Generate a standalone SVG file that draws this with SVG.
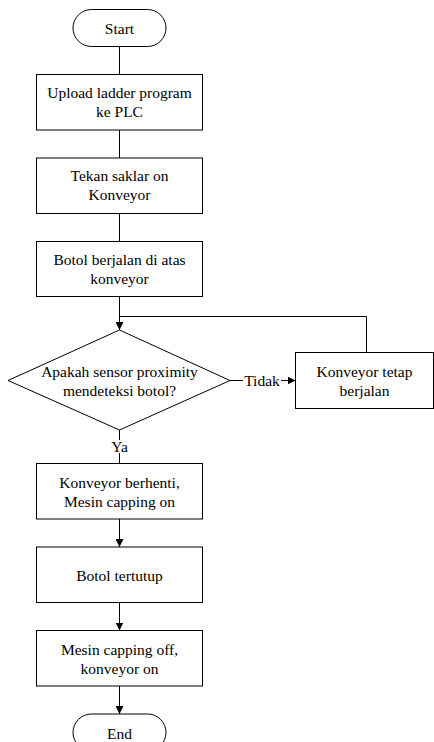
<svg xmlns="http://www.w3.org/2000/svg" width="434" height="742" viewBox="0 0 434 742">
<style>
.s{fill:#fff;stroke:#000;stroke-width:1}
.t{font-family:"Liberation Serif","Times New Roman",serif;font-size:15.5px;fill:#000;text-anchor:middle}
.c{fill:none;stroke:#000;stroke-width:1}
</style>
<defs>
<marker id="ah" viewBox="0 0 10 10" refX="10" refY="5" markerWidth="8" markerHeight="8" markerUnits="userSpaceOnUse" orient="auto">
<path d="M0,0 L10,5 L0,10 Z" fill="#000"/>
</marker>
</defs>
<rect width="434" height="742" fill="#fff"/>
<g id="connectors">
<line class="c" x1="119.5" y1="46.5" x2="119.5" y2="74.5"/>
<line class="c" x1="119.5" y1="130" x2="119.5" y2="158"/>
<line class="c" x1="119.5" y1="213.5" x2="119.5" y2="241.5"/>
<line class="c" x1="119.5" y1="296.5" x2="119.5" y2="330" marker-end="url(#ah)"/>
<line class="c" x1="230" y1="380.5" x2="243" y2="380.5"/>
<line class="c" x1="281" y1="380.5" x2="295.5" y2="380.5" marker-end="url(#ah)"/>
<polyline class="c" points="366.5,352.5 366.5,316.5 119.5,316.5"/>
<line class="c" x1="119.5" y1="430" x2="119.5" y2="440"/>
<line class="c" x1="119.5" y1="453" x2="119.5" y2="463.5"/>
<line class="c" x1="119.5" y1="519" x2="119.5" y2="547" marker-end="url(#ah)"/>
<line class="c" x1="119.5" y1="602.5" x2="119.5" y2="630.5" marker-end="url(#ah)"/>
<line class="c" x1="119.5" y1="686" x2="119.5" y2="714" marker-end="url(#ah)"/>
<text class="t" x="262" y="385.5">Tidak</text>
<text class="t" x="119.5" y="452">Ya</text>
</g>
<g id="start">
<rect class="s" x="73" y="9.5" width="93" height="37" rx="18.5"/>
<text class="t" x="119.5" y="33.5">Start</text>
</g>
<g id="upload">
<rect class="s" x="36.5" y="74.5" width="166" height="55.5"/>
<text class="t" x="119.5" y="97.5">Upload ladder program</text>
<text class="t" x="119.5" y="116.5">ke PLC</text>
</g>
<g id="tekan">
<rect class="s" x="36.5" y="158" width="166" height="55.5"/>
<text class="t" x="119.5" y="181">Tekan saklar on</text>
<text class="t" x="119.5" y="200">Konveyor</text>
</g>
<g id="botol-berjalan">
<rect class="s" x="36.5" y="241.5" width="166" height="55"/>
<text class="t" x="119.5" y="264.5">Botol berjalan di atas</text>
<text class="t" x="119.5" y="283.5">konveyor</text>
</g>
<g id="decision">
<polygon class="s" points="119.5,330 230,380.5 119.5,430 8,380.5"/>
<text class="t" x="119.5" y="377">Apakah sensor proximity</text>
<text class="t" x="119.5" y="396">mendeteksi botol?</text>
</g>
<g id="tetap">
<rect class="s" x="295.5" y="352.5" width="138" height="56"/>
<text class="t" x="364.5" y="377">Konveyor tetap</text>
<text class="t" x="364.5" y="395.5">berjalan</text>
</g>
<g id="berhenti">
<rect class="s" x="36.5" y="463.5" width="166" height="55.5"/>
<text class="t" x="119.5" y="488">Konveyor berhenti,</text>
<text class="t" x="119.5" y="506.5">Mesin capping on</text>
</g>
<g id="tertutup">
<rect class="s" x="36.5" y="547" width="166" height="55.5"/>
<text class="t" x="119.5" y="580.5">Botol tertutup</text>
</g>
<g id="capping-off">
<rect class="s" x="36.5" y="630.5" width="166" height="55.5"/>
<text class="t" x="119.5" y="654.5">Mesin capping off,</text>
<text class="t" x="119.5" y="673.5">konveyor on</text>
</g>
<g id="end">
<rect class="s" x="73" y="714" width="93" height="37" rx="18.5"/>
<text class="t" x="119.5" y="738.5">End</text>
</g>
</svg>
